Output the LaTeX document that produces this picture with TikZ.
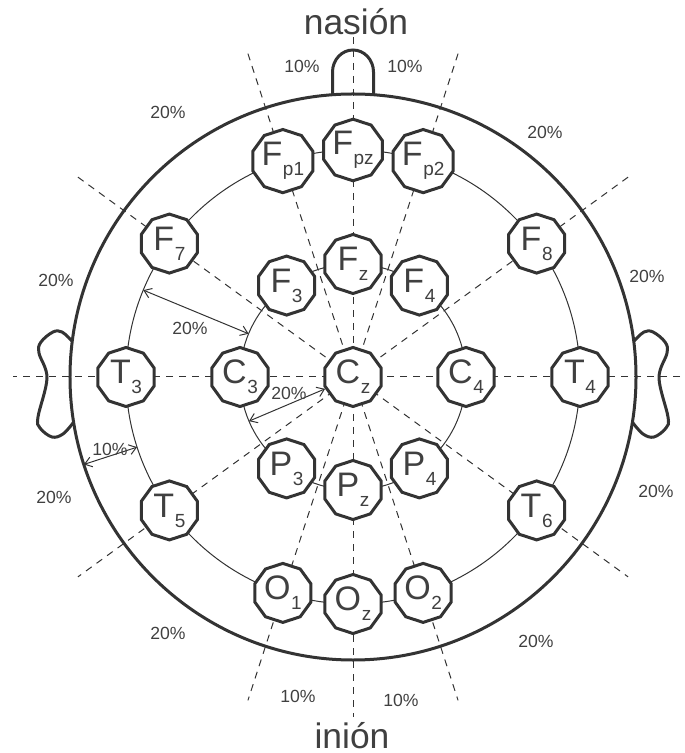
\documentclass[tikz,border=0pt]{standalone}
\usepackage{fontspec}
\setmainfont{Liberation Sans}
\usetikzlibrary{arrows.meta,shapes.geometric}
\definecolor{ink}{HTML}{333333}
\definecolor{txt}{HTML}{404040}
\newcommand\elab[2]{#1\kern0.3pt\raisebox{-5pt}{\fontsize{9.5}{10}\selectfont #2}}

\begin{document}
\begin{tikzpicture}[x=0.5pt, y=0.5pt, >={Straight Barb[length=3.5pt,width=5pt]},
    font=\fontsize{8.8}{10}\selectfont, text=txt,
    el/.style={draw=ink, line width=1.5pt, fill=white, regular polygon,
      regular polygon sides=10, shape border rotate=18, minimum size=29.5pt,
      inner sep=0pt, font=\fontsize{17}{18}\selectfont},
    head/.style={draw=ink, line width=1.5pt},
    ring/.style={draw=ink, line width=0.5pt},
    guide/.style={draw=ink, line width=0.5pt, dash pattern=on 3.5pt off 3pt},
    dim/.style={draw=ink, line width=0.5pt, <->},
    pct/.style={inner sep=0pt},
    land/.style={inner sep=0pt, anchor=base, font=\fontsize{17.7}{20}\selectfont}]
  \useasboundingbox (-353,-376) rectangle (331,377);
  % guide lines through the centre
  \foreach \a in {0,36,72,90,108,144}
    \draw[guide] (\a:340) -- (\a+180:340);
  % head, nose and ears
  \draw[head] (0,0) circle (283);
  \draw[head] (-20.5,282.3) -- (-20.5,305)
    arc[start angle=180, end angle=0, x radius=20.5, y radius=22] -- (20.5,282.3);
  \draw[head] plot[smooth, tension=0.6] coordinates {(-281,36) (-291,45) (-300,45)
    (-312,35) (-314,24) (-306,-1) (-315,-40) (-313,-51) (-301,-60) (-290,-57) (-280,-46)};
  \begin{scope}[xscale=-1]
    \draw[head] plot[smooth, tension=0.6] coordinates {(-281,36) (-291,45) (-300,45)
      (-312,35) (-314,24) (-306,-1) (-315,-40) (-313,-51) (-301,-60) (-290,-57) (-280,-46)};
  \end{scope}
  % rings
  \draw[ring] (0,0) circle (227);
  \draw[ring] (0,0) circle (113);
  % electrodes
  \node[el] (Cz) at (0,0) {\elab{C}{z}};
  \foreach \a/\n/\l/\s in {90/Fpz/F/pz, 72/Fp2/F/p2, 36/F8/F/8, 0/T4/T/4,
      -36/T6/T/6, -72/O2/O/2, -90/Oz/O/z, -108/O1/O/1, -144/T5/T/5,
      180/T3/T/3, 144/F7/F/7, 108/Fp1/F/p1}
    \node[el] (\n) at (\a:227) {\elab{\l}{\s}};
  \foreach \a/\n/\l/\s in {90/Fz/F/z, 54/F4/F/4, 0/C4/C/4, -54/P4/P/4,
      -90/Pz/P/z, -126/P3/P/3, 180/C3/C/3, 126/F3/F/3}
    \node[el] (\n) at (\a:113) {\elab{\l}{\s}};
  % distances
  \coordinate (dAin) at (157.5:113);
  \coordinate (dAout) at (157.5:227);
  \draw[dim] (dAout) -- (dAin);
  \coordinate (dBin) at (203:113);
  \draw[dim] (dBin) -- (Cz.203);
  \coordinate (dCin) at (198:227);
  \coordinate (dCout) at (198:283);
  \draw[dim] (dCout) -- (dCin);
  \node[pct] (pA) at (-163,49) {20\%};
  \node[pct] (pB) at (-64,-16) {20\%};
  \node[pct] (pC) at (-243,-72) {10\%};
  % percentages round the head
  \node[pct] (p1) at (-51,311) {10\%};
  \node[pct] (p2) at (52,311) {10\%};
  \node[pct] (p3) at (-185,265) {20\%};
  \node[pct] (p4) at (192,245) {20\%};
  \node[pct] (p5) at (-297,97) {20\%};
  \node[pct] (p6) at (294,101) {20\%};
  \node[pct] (p7) at (-299,-120) {20\%};
  \node[pct] (p8) at (303,-114) {20\%};
  \node[pct] (p9) at (-185,-256) {20\%};
  \node[pct] (p10) at (183,-264) {20\%};
  \node[pct] (p11) at (-55,-319) {10\%};
  \node[pct] (p12) at (48,-323) {10\%};
  % landmarks
  \node[land] (nas) at (3,342) {nasión};
  \node[land] (ini) at (-1,-371) {inión};
\end{tikzpicture}
\end{document}
